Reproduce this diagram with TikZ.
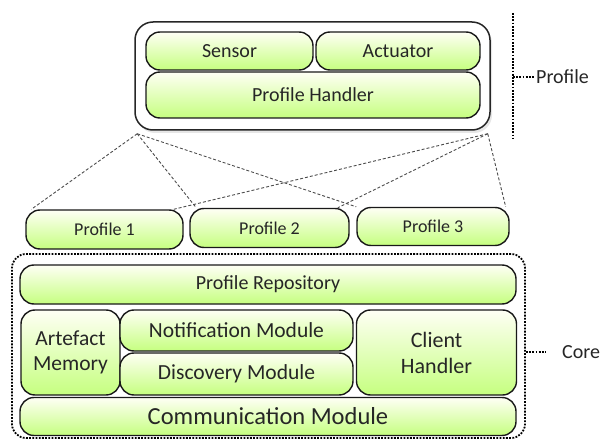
\documentclass[tikz,border=0pt]{standalone}
\usepackage{fontspec}
\setmainfont{Carlito}
\usetikzlibrary{shadows}

\begin{document}
\begin{tikzpicture}[
            x = 1pt, y = -1pt, % pixel grid of the layout
            line join = round,
            link/.style = {dash pattern = on 3pt off 2pt, gray!60!black, line width = 0.9pt},
            marker/.style = {line width = 1.8pt, dash pattern = on 1.8pt off 1.4pt}
        ]

        \tikzstyle{every node}=[font = \fontsize{20}{23}\selectfont, text = black!85]
        \tikzstyle{module}=[
            draw = black!90,
            line width = 1.4pt,
            rounded corners = 14pt,
            top color = green!3!yellow!4,
            bottom color = green!45!yellow!50,
            inner sep = 0pt,
            align = center
        ]
        \tikzstyle{mid}=[font = \fontsize{21.5}{25}\selectfont]

        \useasboundingbox (0,0) rectangle (603,441);

        % profile layer
        \node[draw = black!85, line width = 1.5pt, rounded corners = 18pt, fill = white,
              drop shadow = {opacity = 0.2, shadow xshift = 2pt, shadow yshift = -3pt},
              minimum width = 355pt, minimum height = 108pt] (prof) at (312.5,76) {};
        \node[module, minimum width = 167pt, minimum height = 38pt] (sensor) at (229.5,51) {Sensor};
        \node[module, minimum width = 164pt, minimum height = 38pt] (actuator) at (398,51) {Actuator};
        \node[module, minimum width = 334pt, minimum height = 46pt] (handler) at (313,95) {Profile Handler};

        % profiles
        \node[module, font = \fontsize{18}{21}\selectfont, minimum width = 157pt, minimum height = 39pt] (p1) at (104.5,229.5) {Profile 1};
        \node[module, font = \fontsize{18}{21}\selectfont, minimum width = 159pt, minimum height = 39pt] (p2) at (269.5,228) {Profile 2};
        \node[module, font = \fontsize{18}{21}\selectfont, minimum width = 152pt, minimum height = 38pt] (p3) at (433,226.5) {Profile 3};

        \draw[link] ([shift={(3pt,-3pt)}]prof.south west) -- ([xshift=6pt]p1.north west);
        \draw[link] ([shift={(3pt,-3pt)}]prof.south west) -- ([xshift=7pt]p2.north west);
        \draw[link] ([shift={(3pt,-3pt)}]prof.south west) -- ([xshift=0pt]p3.north west);
        \draw[link] ([shift={(-3pt,-3pt)}]prof.south east) -- ([xshift=-10pt]p1.north east);
        \draw[link] ([shift={(-3pt,-3pt)}]prof.south east) -- ([xshift=-12pt]p2.north east);
        \draw[link] ([shift={(-3pt,-3pt)}]prof.south east) -- ([xshift=-4pt]p3.north east);

        % core layer
        \node[marker, draw = black, rounded corners = 14pt,
              minimum width = 513pt, minimum height = 184pt] (core) at (268.5,346) {};
        \node[module, minimum width = 496pt, minimum height = 39pt] (repo) at (268,284.5) {Profile Repository};
        \node[module, mid, minimum width = 99pt, minimum height = 85pt] (artefact) at (70.5,352.5) {Artefact\\Memory};
        \node[module, mid, minimum width = 233pt, minimum height = 41pt] (notif) at (236.5,330.5) {Notification Module};
        \node[module, mid, minimum width = 233pt, minimum height = 42pt] (disc) at (236.5,374) {Discovery Module};
        \node[module, font = \fontsize{22}{26}\selectfont, minimum width = 160pt, minimum height = 85pt] (client) at (436.5,352.5) {Client\\Handler};
        \node[module, font = \fontsize{24.5}{28}\selectfont, minimum width = 496pt, minimum height = 38pt] (comm) at (268,416.5) {Communication Module};

        % side labels
        \coordinate (top) at (513,13);
        \coordinate (bottom) at (513,138);
        \coordinate (profnote) at (513,77);
        \coordinate (corenote) at (546,352);
        \draw[marker] (top) -- (bottom);
        \node[anchor = west, inner sep = 1pt] (proflabel) at (535,77) {Profile};
        \draw[marker] (profnote) -- (proflabel.west);

        \node[anchor = west, inner sep = 1pt] (corelabel) at (561,352) {Core};
        \draw[marker] (core.east |- corenote) -- (corenote);

  \end{tikzpicture}
\end{document}
